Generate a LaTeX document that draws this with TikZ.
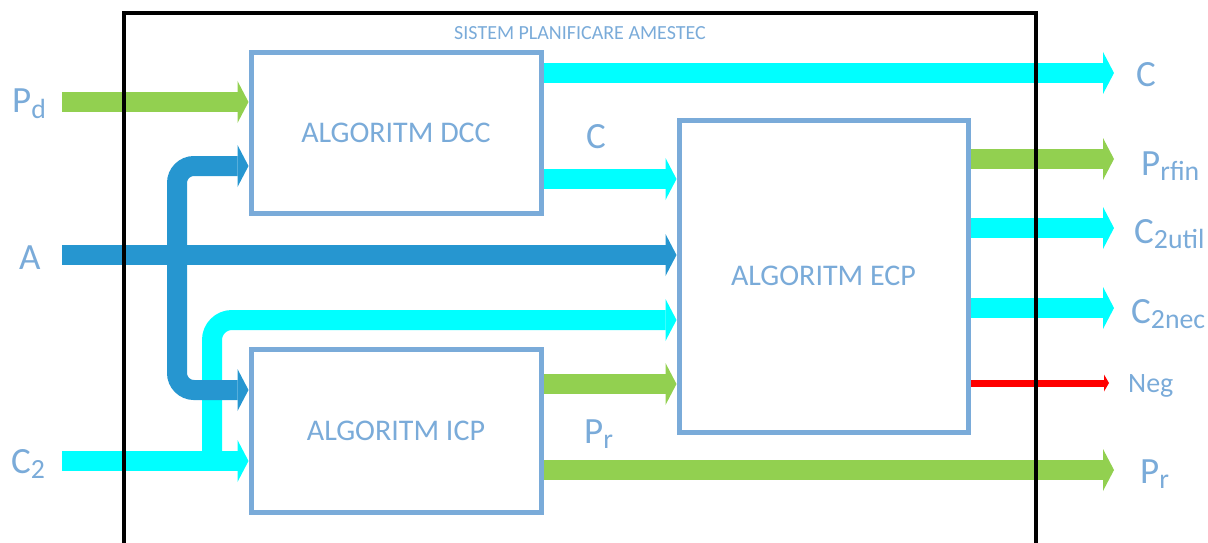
\documentclass[tikz,border=0pt]{standalone}
\usepackage{fontspec}
\setmainfont{Carlito}
\usetikzlibrary{arrows.meta}
\definecolor{boxblue}{RGB}{122,171,217}
\definecolor{flowgreen}{RGB}{146,208,80}
\definecolor{flowcyan}{RGB}{0,255,255}
\definecolor{flowblue}{RGB}{38,150,208}
\definecolor{flowred}{RGB}{255,0,0}
\pgfdeclarelayer{flows}
\pgfsetlayers{flows,main}
% lowered, reduced subscript as used in the signal names
\newcommand\lsub[1]{\raisebox{-0.15em}{\scalebox{0.75}{#1}}}
\begin{document}
\begin{tikzpicture}[x=1pt,y=-1pt,
  algbox/.style={draw=boxblue, line width=5pt, fill=white, text=boxblue,
    font=\fontsize{30}{36}\selectfont, inner sep=0pt},
  flow/.style={line width=20pt, -{Triangle[length=11pt,width=42pt,line width=0pt]}},
  thinflow/.style={line width=7pt, -{Triangle[length=5pt,width=17pt,line width=0pt]}},
  lbl/.style={text=boxblue, font=\fontsize{37}{40}\selectfont, inner sep=0pt, anchor=base west},
  smalllbl/.style={text=boxblue, font=\fontsize{28}{32}\selectfont, inner sep=0pt, anchor=base west},
]
\clip (0,0) rectangle (1208,543);
\useasboundingbox (0,0) rectangle (1208,543);

% processing blocks
\node[algbox, minimum width=290pt, minimum height=160pt] (dcc) at (396,133) {ALGORITM DCC};
\node[algbox, minimum width=289pt, minimum height=312pt] (ecp) at (823.5,276) {ALGORITM ECP};
\node[algbox, minimum width=290pt, minimum height=163pt] (icp) at (396,430.5) {ALGORITM ICP};

\node[text=boxblue, font=\fontsize{20}{24}\selectfont] (title) at (580,33) {SISTEM PLANIFICARE AMESTEC};

% entry points, split points and exit points of the flows
\coordinate (pdIn) at (62,102);
\coordinate (aIn) at (62,255);
\coordinate (c2In) at (62,461);
\coordinate (aSplit) at (177,255);
\coordinate (c2Split) at (212,461);
\coordinate (aTop) at (250,166);
\coordinate (aBot) at (250,390);
\coordinate (c2Up) at (250,320);
\coordinate (cTop) at (550,73);
\coordinate (cMid) at (550,179);
\coordinate (prMid) at (550,384);
\coordinate (prBot) at (550,470);
\coordinate (cOut) at (1114,73);
\coordinate (prfinOut) at (1114,159);
\coordinate (utilOut) at (1114,228);
\coordinate (necOut) at (1114,308);
\coordinate (negOut) at (1109,383);
\coordinate (prOut) at (1114,470);

\begin{pgfonlayer}{flows}
  % inputs
  \draw[flow, flowgreen] (pdIn) -- (pdIn -| dcc.west);
  \draw[flow, flowcyan] (c2In) -- (c2In -| icp.west);
  \draw[flow, flowcyan, rounded corners=20pt] (c2Split) |- (c2Up -| ecp.west);
  \draw[flow, flowblue] (aIn) -- (aIn -| ecp.west);
  \draw[flow, flowblue, rounded corners=17pt] (aSplit) |- (aTop -| dcc.west);
  \draw[flow, flowblue, rounded corners=17pt] (aSplit) |- (aBot -| icp.west);
  % between blocks
  \draw[flow, flowcyan] (cMid -| dcc.east) -- (cMid -| ecp.west);
  \draw[flow, flowgreen] (prMid -| icp.east) -- (prMid -| ecp.west);
  % outputs
  \draw[flow, flowcyan] (cTop -| dcc.east) -- (cOut);
  \draw[flow, flowgreen] (prBot -| icp.east) -- (prOut);
  \draw[flow, flowgreen] (prfinOut -| ecp.east) -- (prfinOut);
  \draw[flow, flowcyan] (utilOut -| ecp.east) -- (utilOut);
  \draw[flow, flowcyan] (necOut -| ecp.east) -- (necOut);
  \draw[thinflow, flowred] (negOut -| ecp.east) -- (negOut);
\end{pgfonlayer}

% system boundary
\draw[line width=4pt] (124,560) -- (124,13) -- (1036,13) -- (1036,560);

% signal names
\node[lbl] (lpd) at (12,113) {P\lsub{d}};
\node[lbl] (la) at (19,269) {A};
\node[lbl] (lc2) at (11,473) {C\lsub{2}};
\node[lbl] (lcmid) at (586,148) {C};
\node[lbl] (lprmid) at (584,443) {P\lsub{r}};
\node[lbl] (lc) at (1136,87) {C};
\node[lbl] (lprfin) at (1141,175) {P\lsub{rfin}};
\node[lbl] (lutil) at (1134,243) {C\lsub{2util}};
\node[lbl] (lnec) at (1131,323) {C\lsub{2nec}};
\node[smalllbl] (lneg) at (1128,392) {Neg};
\node[lbl] (lpr) at (1140,483) {P\lsub{r}};
\end{tikzpicture}
\end{document}
